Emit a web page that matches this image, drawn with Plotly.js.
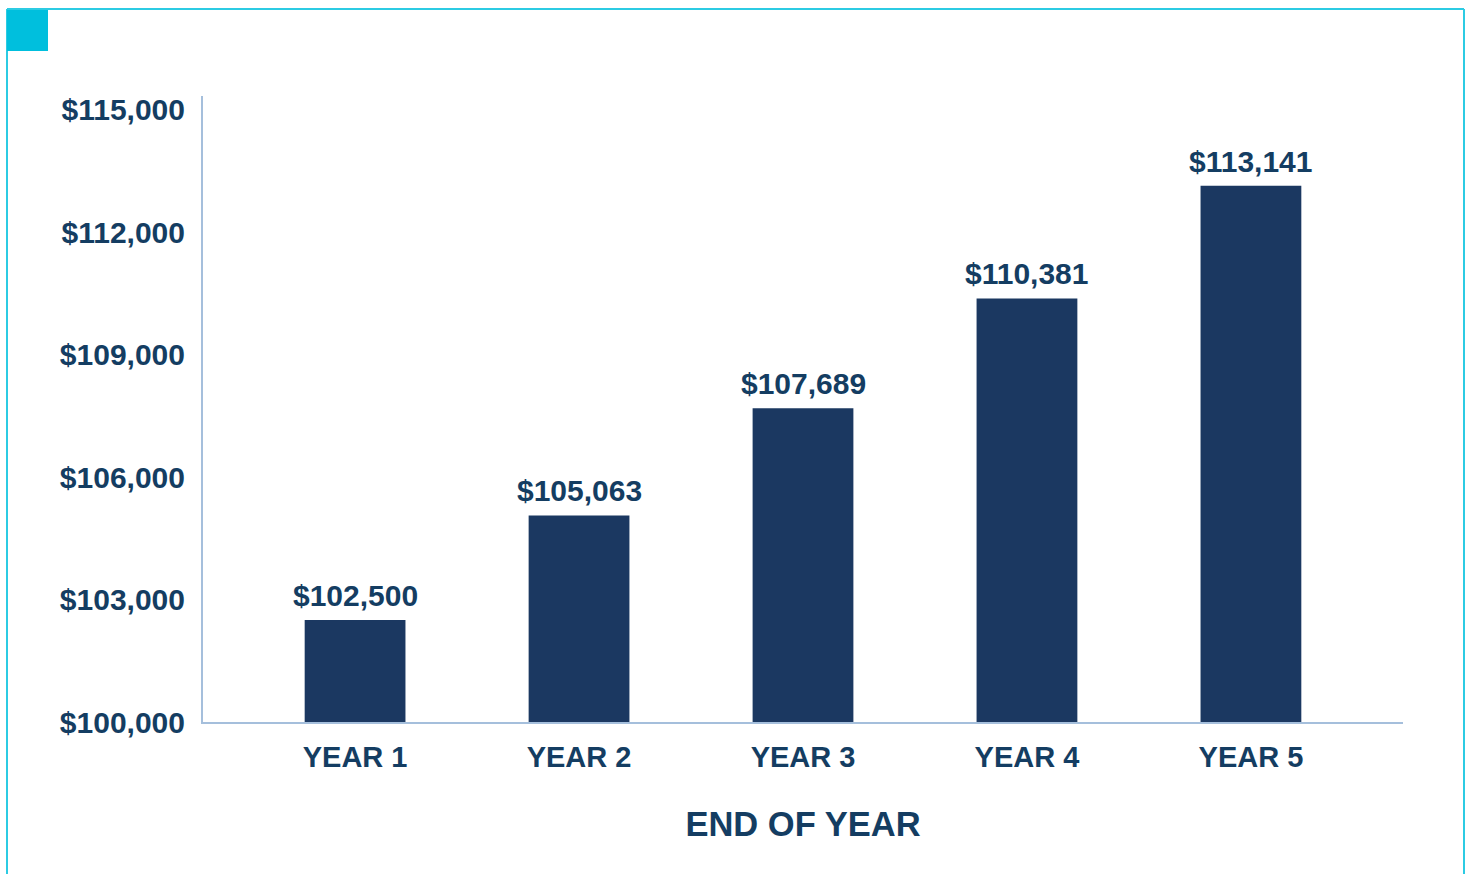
<!DOCTYPE html>
<html>
<head>
<meta charset="utf-8">
<script src="https://cdn.plot.ly/plotly-3.0.1.min.js"></script>
<style>
html,body{margin:0;padding:0;background:#fff;}
#chart{width:1471px;height:874px;}
</style>
</head>
<body>
<div id="chart"></div>
<script>
var categories = ["YEAR 1", "YEAR 2", "YEAR 3", "YEAR 4", "YEAR 5"];
var values = [102500, 105063, 107689, 110381, 113141];
var valueLabels = ["$102,500", "$105,063", "$107,689", "$110,381", "$113,141"];
var tickValues = [100000, 103000, 106000, 109000, 112000, 115000];
var tickLabels = ["$100,000", "$103,000", "$106,000", "$109,000", "$112,000", "$115,000"];

var W = 1471, H = 874;
var L = 203, R = 68, T = 96, B = 152;
var pw = W - L - R, ph = H - T - B;
function px(x){ return (x - L) / pw; }
function py(y){ return (H - B - y) / ph; }

var textColor = "#143d62";
var fontFam = "Liberation Sans, Arial, Helvetica, sans-serif";
var BASE = 100000;

var trace = {
  type: "bar",
  x: categories,
  y: values.map(function(v){ return v - BASE; }),
  base: BASE,
  marker: {color: "#1b3861"},
  width: 0.45,
  hoverinfo: "none"
};

var annotations = categories.map(function(c, i){
  return {
    x: c, y: values[i], xref: "x", yref: "y",
    text: valueLabels[i], showarrow: false,
    yanchor: "bottom", yshift: 6,
    font: {family: fontFam, size: 30, color: textColor, weight: "bold"}
  };
});

var cyan = "#2ccbe3";
var layout = {
  width: W, height: H,
  margin: {l: L, r: R, t: T, b: B},
  paper_bgcolor: "#ffffff",
  plot_bgcolor: "#ffffff",
  showlegend: false,
  font: {family: fontFam, color: textColor},
  xaxis: {
    type: "category",
    range: [-0.679, 4.679],
    showgrid: false,
    zeroline: false,
    showline: true,
    linecolor: "#a5bfdc",
    linewidth: 2,
    ticks: "",
    ticklabelstandoff: 8,
    tickfont: {family: fontFam, size: 29, color: textColor, weight: "bold"},
    title: {text: "END OF YEAR", standoff: 40, font: {family: fontFam, size: 34.5, color: textColor, weight: "bold"}},
    fixedrange: true
  },
  yaxis: {
    range: [100000, 115343],
    tickmode: "array",
    tickvals: tickValues,
    ticktext: tickLabels,
    showgrid: false,
    zeroline: false,
    showline: true,
    linecolor: "#a5bfdc",
    linewidth: 2,
    ticks: "",
    ticklabelstandoff: 10,
    tickfont: {family: fontFam, size: 30, color: textColor, weight: "bold"},
    fixedrange: true
  },
  annotations: annotations,
  shapes: [
    {type: "line", xref: "paper", yref: "paper", x0: px(7), x1: px(7), y0: py(9), y1: py(880), line: {color: cyan, width: 2}},
    {type: "line", xref: "paper", yref: "paper", x0: px(7), x1: px(1464), y0: py(9), y1: py(9), line: {color: cyan, width: 2}},
    {type: "line", xref: "paper", yref: "paper", x0: px(1464), x1: px(1464), y0: py(9), y1: py(880), line: {color: cyan, width: 2}},
    {type: "rect", xref: "paper", yref: "paper", x0: px(7), x1: px(48), y0: py(10), y1: py(51), line: {width: 0}, fillcolor: "#00bfdd"}
  ]
};

Plotly.newPlot("chart", [trace], layout, {displayModeBar: false, staticPlot: true});
</script>
</body>
</html>
